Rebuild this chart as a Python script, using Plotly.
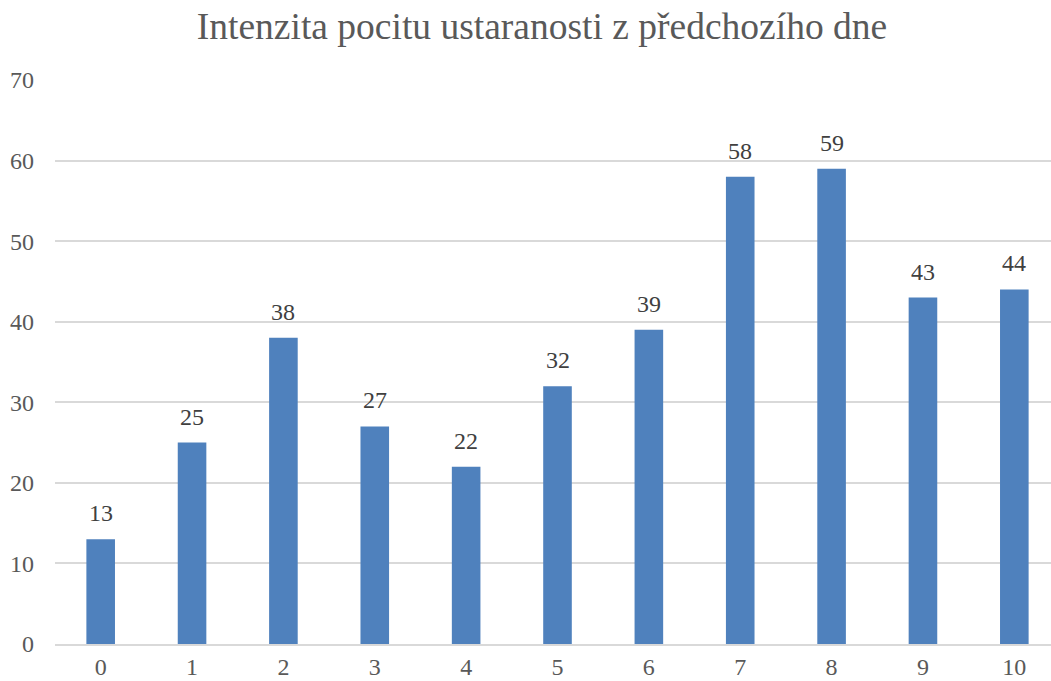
import plotly.graph_objects as go

categories = ["0", "1", "2", "3", "4", "5", "6", "7", "8", "9", "10"]
values = [13, 25, 38, 27, 22, 32, 39, 58, 59, 43, 44]
y_ticks = [0, 10, 20, 30, 40, 50, 60, 70]

font_family = "Liberation Serif"
text_color = "#595959"
W = 1060

fig = go.Figure(
    go.Bar(
        x=categories,
        y=values,
        marker=dict(color="#4F81BD", line=dict(width=0)),
        cliponaxis=False,
        hoverinfo="x+y",
    )
)

for c, v in zip(categories, values):
    fig.add_annotation(
        x=c, y=v, text=str(v), showarrow=False,
        yanchor="bottom", yshift=11,
        font=dict(family=font_family, size=24, color="#404040"),
    )

fig.update_layout(
    width=W,
    height=681,
    margin=dict(l=55, r=0, t=80, b=37),
    paper_bgcolor="white",
    plot_bgcolor="white",
    bargap=0.687,
    showlegend=False,
    title=dict(
        text="Intenzita pocitu ustaranosti z předchozího dne",
        xref="container",
        yref="container",
        x=542 / W,
        xanchor="center",
        y=0.962,
        yanchor="middle",
        font=dict(family=font_family, size=37.5, color=text_color),
    ),
    font=dict(family=font_family, color=text_color),
)

fig.update_xaxes(
    type="category",
    automargin=False,
    showgrid=False,
    showline=True,
    linecolor="#D9D9D9",
    linewidth=1.5,
    ticks="",
    tickfont=dict(family=font_family, size=24, color=text_color),
    ticklabelstandoff=0,
)
fig.update_yaxes(
    range=[0, 70],
    automargin=False,
    tickvals=y_ticks,
    showgrid=True,
    gridcolor="#D9D9D9",
    gridwidth=1.5,
    zeroline=False,
    showline=False,
    ticks="",
    tickfont=dict(family=font_family, size=24, color=text_color),
    ticklabelstandoff=20,
)

fig.write_html(
    "out.html",
    config={"displayModeBar": False},
    post_script="document.body.style.margin='0';document.body.style.overflow='hidden';",
)
